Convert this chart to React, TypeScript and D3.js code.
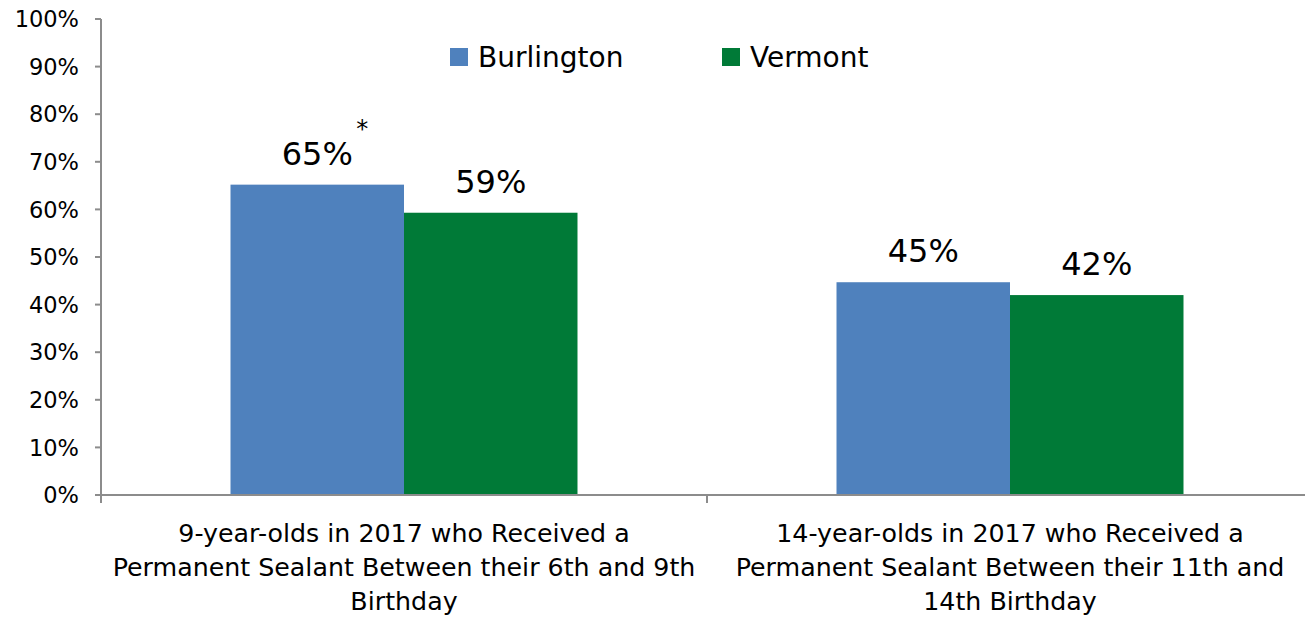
import React from "react";
import * as d3 from "d3";

const categories: string[][] = [
  ["9-year-olds in 2017 who Received a", "Permanent Sealant Between their 6th and 9th", "Birthday"],
  ["14-year-olds in 2017 who Received a", "Permanent Sealant Between their 11th and", "14th Birthday"],
];
const categoryKeys = ["age9", "age14"];
const seriesNames = ["Burlington", "Vermont"];
const burlington = [65.2, 44.7];
const vermont = [59.3, 42.0];
const labels = [["65%", "45%"], ["59%", "42%"]];
const yTicks = [0, 10, 20, 30, 40, 50, 60, 70, 80, 90, 100];
const colors = ["#4F81BD", "#007A37"];

const W = 1305;
const H = 617;
const FONT = "'DejaVu Sans', sans-serif";

export default function App() {
  const x0 = d3.scaleBand<string>().domain(categoryKeys).range([101, 1313]).paddingInner(0).paddingOuter(0);
  const bw = x0.bandwidth();
  const groupW = bw * 0.5726;
  const x1 = d3
    .scaleBand<string>()
    .domain(seriesNames)
    .range([(bw - groupW) / 2, (bw + groupW) / 2])
    .padding(0);
  const y = d3.scaleLinear().domain([0, 100]).range([495, 19]);
  const values = [burlington, vermont];
  const axisColor = "#8C8C8C";

  return (
    <svg width={W} height={H} style={{ position: "absolute", left: 0, top: 0, background: "#fff" }} fontFamily={FONT}>
      {/* bars */}
      {categoryKeys.map((c, ci) => (
        <g key={c} transform={`translate(${x0(c)},0)`}>
          {seriesNames.map((s, si) => {
            const v = values[si][ci];
            const bx = x1(s)!;
            const by = y(v);
            return (
              <g key={s}>
                <rect x={bx} y={by} width={x1.bandwidth()} height={y(0) - by} fill={colors[si]} />
                <text
                  x={bx + x1.bandwidth() / 2}
                  y={by - 20}
                  textAnchor="middle"
                  fontSize={32}
                  fill="#000"
                >
                  {labels[si][ci]}
                </text>
                {si === 0 && ci === 0 && (
                  <text x={bx + x1.bandwidth() / 2 + 39} y={by - 48} fontSize={24} fill="#000">
                    *
                  </text>
                )}
              </g>
            );
          })}
        </g>
      ))}

      {/* y axis */}
      <line x1={101} x2={101} y1={y(100)} y2={y(0) + 8} stroke={axisColor} strokeWidth={2} />
      {yTicks.map((t) => (
        <g key={t}>
          <line x1={95} x2={101} y1={y(t)} y2={y(t)} stroke={axisColor} strokeWidth={2} />
          <text x={79} y={y(t)} dy="0.36em" textAnchor="end" fontSize={22.5} fill="#000">
            {t}%
          </text>
        </g>
      ))}

      {/* x axis */}
      <line x1={101} x2={1313} y1={y(0)} y2={y(0)} stroke={axisColor} strokeWidth={2} />
      {[...categoryKeys.map((c) => x0(c)!), x0(categoryKeys[1])! + bw].map((tx, i) => (
        <line key={i} x1={tx} x2={tx} y1={y(0)} y2={y(0) + 8} stroke={axisColor} strokeWidth={2} />
      ))}
      {categoryKeys.map((c, ci) => (
        <text key={c} textAnchor="middle" fontSize={25.3} fill="#000">
          {categories[ci].map((line, li) => (
            <tspan key={li} x={x0(c)! + bw / 2} y={542 + li * 34}>
              {line}
            </tspan>
          ))}
        </text>
      ))}

      {/* legend */}
      {seriesNames.map((s, si) => {
        const lx = [450, 722][si];
        return (
          <g key={s}>
            <rect x={lx} y={48} width={18} height={18} fill={colors[si]} />
            <text x={lx + 28} y={67} fontSize={28} fill="#000">
              {s}
            </text>
          </g>
        );
      })}
    </svg>
  );
}
